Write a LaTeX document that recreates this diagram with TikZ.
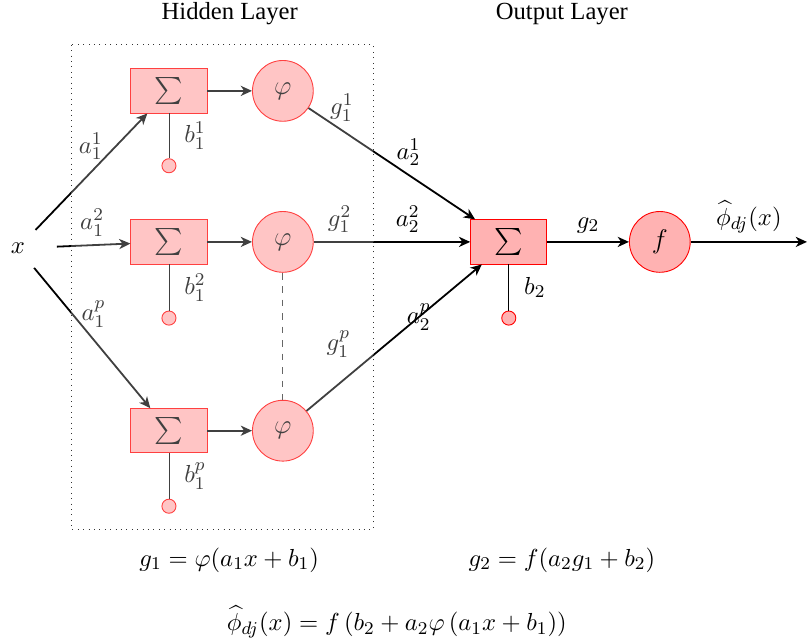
\documentclass[tikz,border=0pt,11pt]{standalone}
\usepackage{amsmath}
\usepackage[no-math]{fontspec}
\setmainfont{Liberation Serif}
\usepackage{tikz}
\usetikzlibrary{arrows.meta}
\usepackage{xcolor}

\tikzset{
  sumbox/.style={draw=red, fill=red!30, minimum width=1.19cm, minimum height=0.69cm, inner sep=0pt, font=\large},
  actnode/.style={circle, draw=red, fill=red!30, minimum size=0.95cm, inner sep=0pt, font=\large},
  biasnode/.style={circle, draw=red, fill=red!30, minimum size=0.22cm, inner sep=0pt},
  link/.style={-{Stealth[length=5pt, width=4.5pt, inset=1.5pt]}, thick},
}

\begin{document}
\begin{tikzpicture}
\useasboundingbox (0,0) rectangle (12.61,-10.02);
% input
\node[circle, minimum size=0.78cm, inner sep=0pt] (x) at (0.28,-3.88) {\(x\)};
% hidden layer
\node[sumbox] (s1) at (2.64,-1.42) {\(\sum\)};
\node[sumbox] (s2) at (2.64,-3.78) {\(\sum\)};
\node[sumbox] (s3) at (2.64,-6.73) {\(\sum\)};
\node[actnode] (p1) at (4.42,-1.42) {\(\varphi\)};
\node[actnode] (p2) at (4.42,-3.78) {\(\varphi\)};
\node[actnode] (p3) at (4.42,-6.73) {\(\varphi\)};
\node[biasnode] (b1) at (2.64,-2.59) {};
\node[biasnode] (b2) at (2.64,-4.97) {};
\node[biasnode] (b3) at (2.64,-7.91) {};
% output layer
\node[sumbox] (so) at (7.95,-3.78) {\(\sum\)};
\node[biasnode] (bo) at (7.95,-4.97) {};
\node[actnode] (f) at (10.31,-3.78) {\(f\)};
\coordinate (y) at (12.61,-3.78);

\draw[link] (x) -- (s1) node[pos=0.6, above left=-4pt]{\(a_1^1\)};
\draw[link, shorten <=6pt] (x) -- (s2) node[pos=0.56, above]{\(a_1^2\)};
\draw[link] (x) -- (s3) node[pos=0.33, right]{\(a_1^p\)};
\foreach \i in {1,2,3}
    \draw[link] (s\i) -- (p\i);
\draw (s1) -- (b1) node[midway, right, xshift=3pt]{\(b_1^1\)};
\draw (s2) -- (b2) node[midway, right, xshift=3pt]{\(b_1^2\)};
\draw (s3) -- (b3) node[midway, right, xshift=3pt]{\(b_1^p\)};
\draw[dashed, black!80] (p2) -- (p3);
\draw[link] (p1) -- (so) node[pos=0.2, above]{\(g_1^1\)} node[pos=0.6, above]{\(a_2^1\)};
\draw[link] (p2) -- (so) node[pos=0.165, above]{\(g_1^2\)} node[pos=0.6, above]{\(a_2^2\)};
\draw[link] (p3) -- (so) node[pos=0.3, above left]{\(g_1^p\)} node[pos=0.64]{\(a_2^p\)};
\draw (so) -- (bo) node[midway, right, xshift=3pt]{\(b_2\)};
\draw[link] (so) -- (f) node[midway, above]{\(g_2\)};
\draw[link] (f) -- (y) node[midway, above]{\(\widehat{\phi}_{dj}(x)\)};

% fade the hidden layer
\fill[white, fill opacity=0.25] (1.11,-0.70) rectangle (5.83,-8.27);
\draw[dotted, black!80] (1.11,-0.70) rectangle (5.83,-8.27);

\node (hl) at (3.59,-0.22) {Hidden Layer};
\node (ol) at (8.78,-0.22) {Output Layer};
\node (eq1) at (3.58,-8.75) {\(g_1 = \varphi(a_1x+b_1)\)};
\node (eq2) at (8.78,-8.75) {\(g_2 = f(a_2g_1+b_2)\)};
\node (eq3) at (6.20,-9.72) {\(\widehat{\phi}_{dj}(x) = f\left(b_2+a_2\varphi\left(a_1x+b_1\right)\right)\)};
\end{tikzpicture}
\end{document}
